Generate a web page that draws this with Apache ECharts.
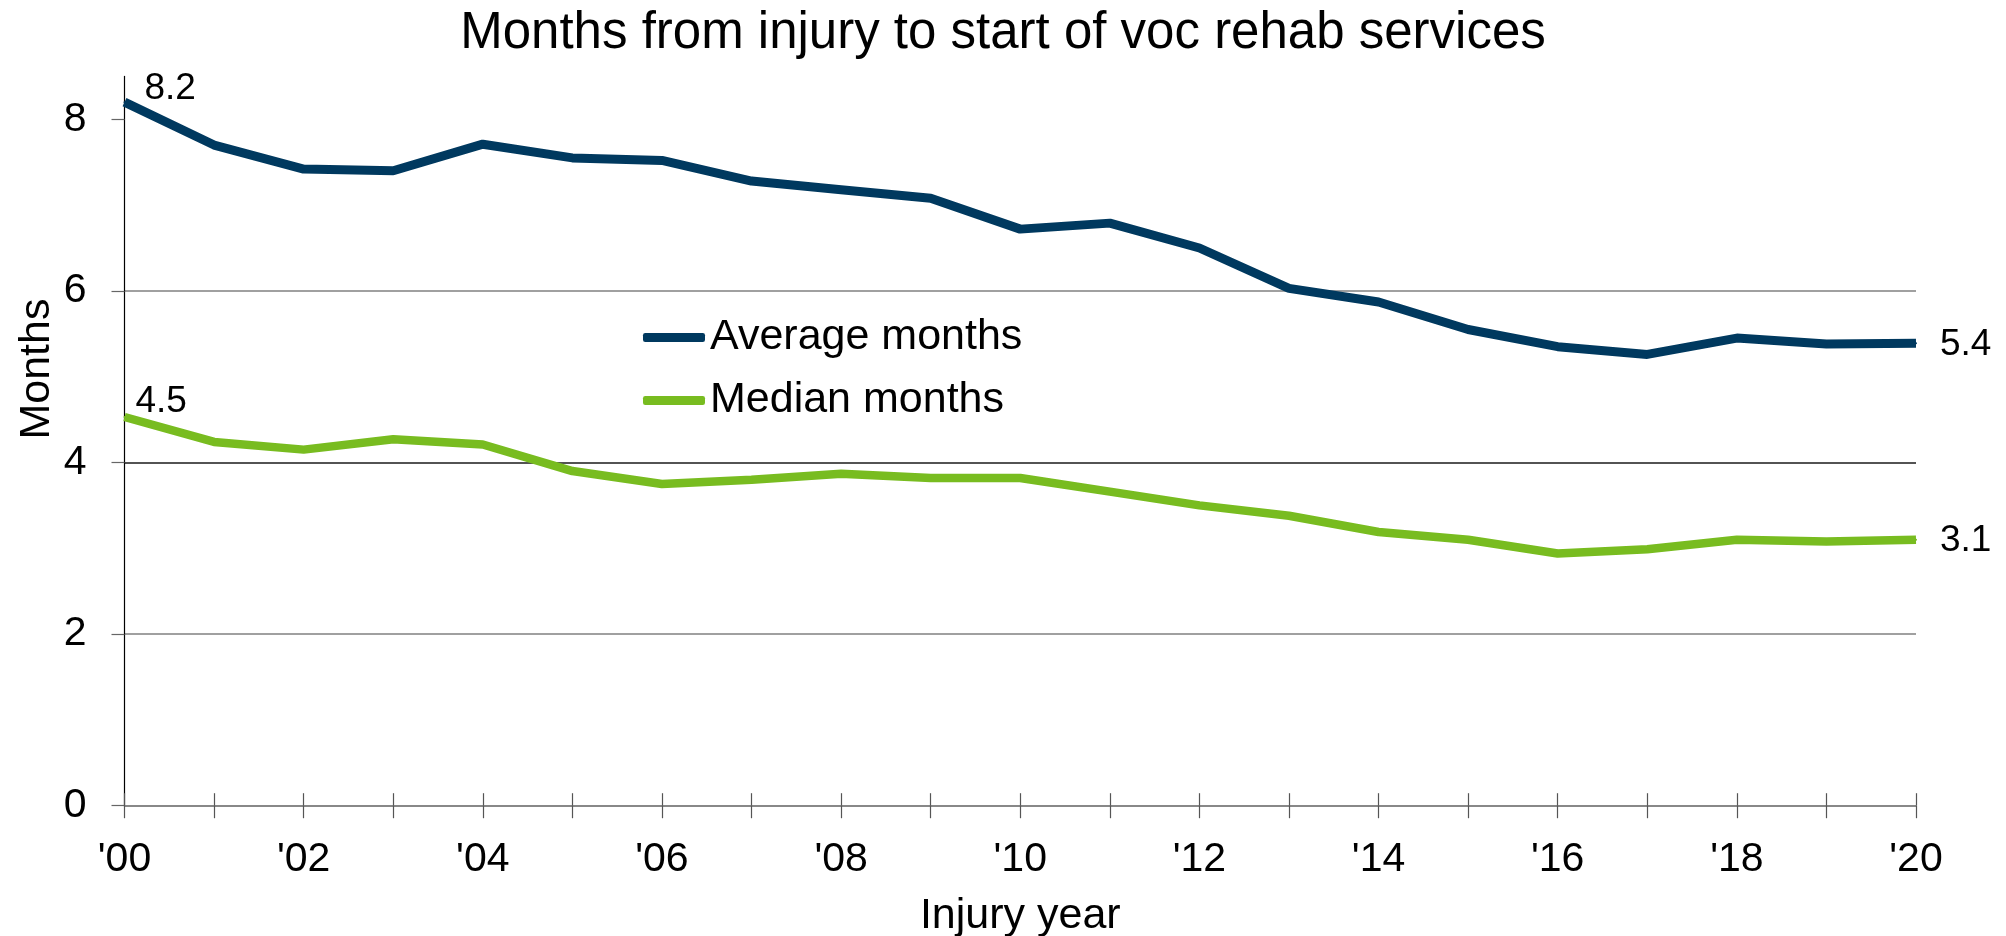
<!DOCTYPE html>
<html>
<head>
<meta charset="utf-8">
<script src="https://cdn.jsdelivr.net/npm/echarts@6/dist/echarts.min.js"></script>
<style>html,body{margin:0;padding:0;background:#fff}#c{width:2006px;height:936px}</style>
</head>
<body>
<div id="c"></div>
<script>
const years = ["'00","'01","'02","'03","'04","'05","'06","'07","'08","'09","'10","'11","'12","'13","'14","'15","'16","'17","'18","'19","'20"];
const averageMonths = [8.2, 7.70, 7.42, 7.40, 7.71, 7.55, 7.52, 7.28, 7.18, 7.08, 6.72, 6.79, 6.50, 6.03, 5.87, 5.55, 5.35, 5.26, 5.45, 5.38, 5.39];
const medianMonths = [4.53, 4.24, 4.15, 4.27, 4.21, 3.90, 3.75, 3.80, 3.87, 3.82, 3.82, 3.66, 3.50, 3.38, 3.19, 3.10, 2.94, 2.99, 3.10, 3.08, 3.10];
const yTicks = [0, 2, 4, 6, 8];

const FONT = "'Liberation Sans', Arial, sans-serif";
const chart = echarts.init(document.getElementById('c'));

function withEndLabels(values, firstLabel, lastLabel) {
  const n = values.length;
  return values.map((v, i) => {
    if (i === 0) return { value: v, label: Object.assign({ show: true }, firstLabel) };
    if (i === n - 1) return { value: v, label: Object.assign({ show: true }, lastLabel) };
    return v;
  });
}
const labelBase = { fontFamily: FONT, fontSize: 37, color: '#000', formatter: p => p.value.toFixed(1) };

chart.setOption({
  animation: false,
  backgroundColor: '#fff',
  title: {
    text: 'Months from injury to start of voc rehab services',
    left: 'center', top: 3,
    textStyle: { fontFamily: FONT, fontSize: 51, fontWeight: 'normal', color: '#000' }
  },
  legend: {
    orient: 'vertical', left: 638, top: 311, itemGap: 20,
    icon: 'roundRect', itemWidth: 62, itemHeight: 9,
    textStyle: { fontFamily: FONT, fontSize: 43, color: '#000' },
    data: ['Average months', 'Median months']
  },
  grid: { left: 124.5, right: 90, top: 76.4, bottom: 130.3, containLabel: false, outerBoundsMode: 'none' },
  xAxis: [{
    type: 'category', data: years, boundaryGap: false,
    name: 'Injury year', nameLocation: 'middle', nameGap: 89, nameMoveOverlap: false,
    nameTextStyle: { fontFamily: FONT, fontSize: 43, color: '#000' },
    axisLine: { show: true, lineStyle: { color: '#808080', width: 1.5 } },
    axisTick: { show: true, length: 12.5, interval: 0, lineStyle: { color: '#555', width: 1.2 } },
    axisLabel: { interval: 1, margin: 33, fontFamily: FONT, fontSize: 41, color: '#000' },
    splitLine: { show: false }
  }, {
    type: 'category', data: years, boundaryGap: false, position: 'bottom',
    axisLine: { show: false },
    axisTick: { show: true, inside: true, length: 12.5, interval: 0, lineStyle: { color: '#555', width: 1.2 } },
    axisLabel: { show: false },
    splitLine: { show: false }
  }],
  yAxis: {
    type: 'value', min: 0, max: 8.5, interval: 2,
    name: 'Months', nameLocation: 'middle', nameGap: 66, nameRotate: 90, nameMoveOverlap: false,
    nameTextStyle: { fontFamily: FONT, fontSize: 43, color: '#000', padding: [0, 0, 0, 144] },
    axisLine: { show: true, lineStyle: { color: '#000', width: 1.2 } },
    axisTick: { show: true, length: 13, customValues: yTicks, lineStyle: { color: '#666', width: 1.2 } },
    axisLabel: {
      margin: 38, fontFamily: FONT, fontSize: 41, color: '#000', customValues: yTicks,
      formatter: v => (yTicks.indexOf(v) >= 0 ? String(v) : '')
    },
    splitLine: {
      show: true, showMaxLine: false,
      lineStyle: { color: ['#808080', '#808080', '#1a1a1a', '#808080', '#1a1a1a', 'rgba(0,0,0,0)'], width: 1.5 }
    }
  },
  series: [{
    name: 'Average months', type: 'line', symbol: 'circle', symbolSize: 2, showSymbol: true,
    color: '#00395f',
    lineStyle: { width: 9, color: '#00395f' },
    label: { show: false },
    data: withEndLabels(averageMonths,
      Object.assign({}, labelBase, { position: 'right', distance: 19, offset: [0, -13] }),
      Object.assign({}, labelBase, { position: 'right', distance: 23, offset: [0, 2] }))
  }, {
    name: 'Median months', type: 'line', symbol: 'circle', symbolSize: 2, showSymbol: true,
    color: '#78bc20',
    lineStyle: { width: 8.5, color: '#78bc20' },
    label: { show: false },
    data: withEndLabels(medianMonths,
      Object.assign({}, labelBase, { position: 'right', distance: 10, offset: [0, -15] }),
      Object.assign({}, labelBase, { position: 'right', distance: 23, offset: [0, 1] }))
  }]
});
</script>
</body>
</html>
